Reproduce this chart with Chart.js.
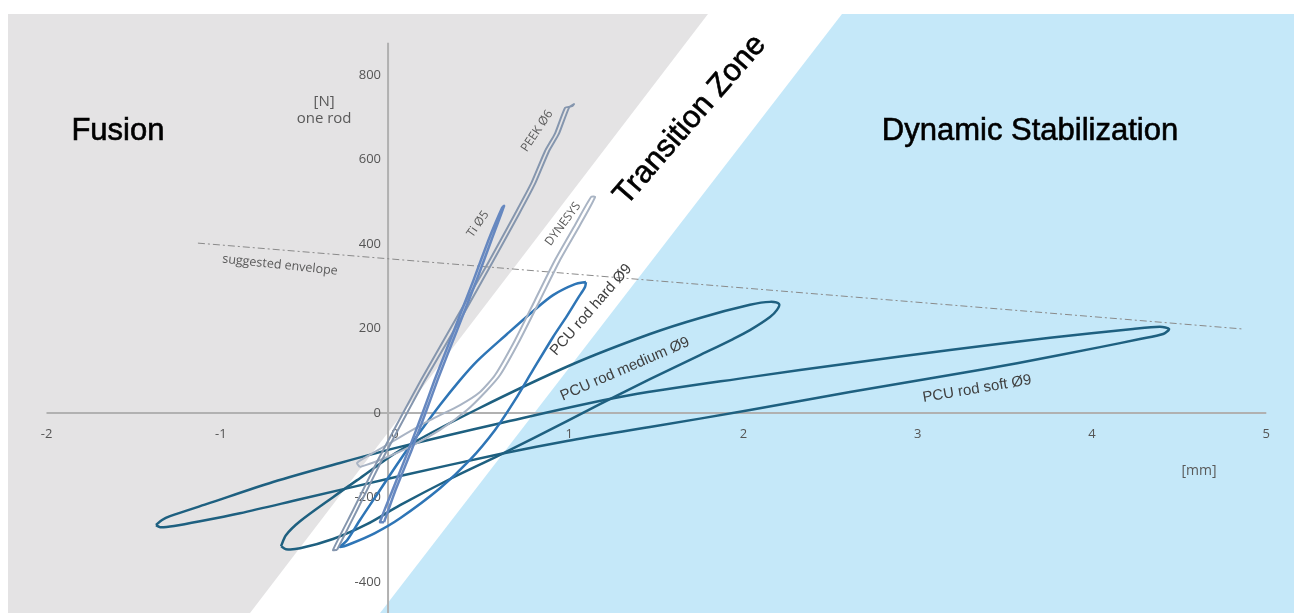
<!DOCTYPE html>
<html>
<head>
<meta charset="utf-8">
<script src="https://cdn.jsdelivr.net/npm/chart.js@4.4.1/dist/chart.umd.min.js"></script>
<style>
  html, body { margin: 0; padding: 0; background: #fff; }
  #wrap { width: 1294px; height: 613px; }
</style>
</head>
<body>
<div id="wrap"><canvas id="chart" width="1294" height="613"></canvas></div>
<script>
// Axis ticks
const xTicks = [-2, -1, 0, 1, 2, 3, 4, 5];
const yTicks = [-400, -200, 0, 200, 400, 600, 800];

// Background zones (displacement mm, force N)
const fusionZoneX = [-3, 1.796, -0.832, -3];
const fusionZoneY = [944, 944, -473, -473];
const dynamicZoneX = [2.565, 6, 6, -0.086];
const dynamicZoneY = [944, 944, -473, -473];

// Suggested envelope
const envX = [-1.131, 4.861];
const envY = [402, 199];

// PCU rod soft Ø9
const softX = [-1.372, -1.337, -1.291, -1.079, -0.700, -0.316, 0.029, 0.603, 1.291, 2.037, 2.611, 3.185, 3.759, 4.235, 4.390, 4.442,
               4.408, 4.275, 4.046, 3.570, 3.185, 2.611, 2.037, 1.463, 0.987, 0.603, 0.029, -0.545, -0.890, -1.119, -1.268, -1.348, -1.372];
const softY = [-265, -253, -244, -215, -163, -118, -80, -24, 38, 85, 118, 149, 178, 199, 204, 199,
               187, 175, 156, 118, 90, 50, 7, -33, -66, -97, -149, -204, -237, -256, -267, -270, -265];

// PCU rod medium Ø9
const mediumX = [-0.654, -0.626, -0.545, -0.356, -0.201, 0.029, 0.471, 1.022, 1.463, 1.750, 2.037, 2.152, 2.204,
                 2.192, 2.152, 2.037, 1.940, 1.750, 1.463, 1.176, 0.987, 0.603, 0.316, 0.029, -0.161, -0.356, -0.545, -0.626, -0.654];
const mediumY = [-315, -289, -256, -199, -154, -88, 9, 116, 187, 225, 256, 263, 258,
                 244, 227, 196, 175, 137, 80, 21, -19, -99, -156, -218, -263, -298, -320, -322, -315];

// PCU rod hard Ø9
const hardX = [1.096, 1.033, 0.907, 0.792, 0.643, 0.471, 0.373, 0.258, 0.143, 0.029, -0.086, -0.201, -0.275, -0.316,
               -0.247, -0.115, 0.029, 0.258, 0.430, 0.574, 0.689, 0.792, 0.907, 0.987, 1.050, 1.090, 1.096];
const hardY = [310, 305, 279, 241, 187, 123, 78, 19, -45, -111, -182, -253, -301, -317,
               -308, -284, -249, -178, -111, -40, 31, 102, 180, 230, 272, 298, 310];

// PEEK Ø6
const peekX = [-0.333, -0.218, -0.075, 0.069, 0.172, 0.390, 0.557, 0.712, 0.803, 0.884, 0.941, 0.998, 1.027,
               1.016, 0.976, 0.918, 0.861, 0.780, 0.688, 0.534, 0.362, 0.149, 0.046, -0.098, -0.241, -0.356, -0.333];
const peekY = [-324, -230, -111, 0, 78, 232, 355, 471, 542, 620, 661, 722, 731,
               726, 722, 661, 620, 542, 471, 355, 232, 78, 0, -111, -230, -324, -324];

// Ti Ø5
const tiX = [-0.063, 0.003, 0.095, 0.175, 0.244, 0.356, 0.468, 0.554, 0.626,
             0.614, 0.537, 0.450, 0.339, 0.227, 0.158, 0.077, -0.014, -0.086, -0.063];
const tiY = [-258, -182, -88, 0, 78, 196, 314, 410, 490,
             485, 410, 314, 196, 78, 0, -88, -182, -258, -258];

// DYNESYS
const dynX = [-0.201, -0.086, 0.086, 0.258, 0.413, 0.528, 0.603, 0.717, 0.832, 0.947, 1.062, 1.148,
              1.125, 1.033, 0.918, 0.803, 0.689, 0.574, 0.488, 0.373, 0.201, 0.029, -0.115, -0.218, -0.201];
const dynY = [-128, -111, -80, -40, 7, 54, 90, 173, 267, 362, 445, 511,
              511, 445, 362, 267, 173, 90, 50, 19, -17, -57, -92, -118, -128];

// Where the vertical axis crosses
const yAxisAtX = -0.04;

// Text annotations, anchored in data units
const notes = [
  { text: 'Fusion', x: -1.590, y: 667, angle: 0, font: '31px "Liberation Sans"', color: '#000', bold: true },
  { text: 'Dynamic Stabilization', x: 3.644, y: 667, angle: 0, font: '31px "Liberation Sans"', color: '#000', bold: true },
  { text: 'Transition Zone', x: 1.693, y: 693, angle: -49, font: '31px "Liberation Sans"', color: '#000', bold: true },
  { text: '[N]', x: -0.407, y: 736, angle: 0, font: '15px "Open Sans"', color: '#595959' },
  { text: 'one rod', x: -0.407, y: 696, angle: 0, font: '15px "Open Sans"', color: '#595959' },
  { text: '[mm]', x: 4.614, y: -137, angle: 0, font: '14px "Open Sans"', color: '#595959' },
  { text: 'PEEK Ø6', x: 0.815, y: 667, angle: -56, font: '12px "Open Sans"', color: '#595959' },
  { text: 'Ti Ø5', x: 0.476, y: 447, angle: -55, font: '12px "Open Sans"', color: '#595959' },
  { text: 'DYNESYS', x: 0.964, y: 447, angle: -53, font: '12px "Open Sans"', color: '#595959' },
  { text: 'PCU rod hard Ø9', x: 1.125, y: 244, angle: -49, font: '15px "Liberation Sans"', color: '#404040' },
  { text: 'PCU rod medium Ø9', x: 1.320, y: 104, angle: -23.5, font: '15px "Liberation Sans"', color: '#404040' },
  { text: 'PCU rod soft Ø9', x: 3.340, y: 57, angle: -9.5, font: '15px "Liberation Sans"', color: '#404040' },
  { text: 'suggested envelope', x: -0.660, y: 350, angle: 6, font: '12.5px "Open Sans"', color: '#595959' }
];

function pts(xs, ys) {
  return xs.map((v, i) => ({ x: v, y: ys[i] }));
}

function fillPoly(ctx, sx, sy, xs, ys, color) {
  ctx.beginPath();
  xs.forEach((v, i) => {
    const px = sx.getPixelForValue(v), py = sy.getPixelForValue(ys[i]);
    if (i === 0) ctx.moveTo(px, py); else ctx.lineTo(px, py);
  });
  ctx.closePath();
  ctx.fillStyle = color;
  ctx.fill();
}

// Zones, axis lines and tick labels behind the curves
const backdrop = {
  id: 'backdrop',
  beforeDatasetsDraw(chart) {
    const { ctx, chartArea: a, scales: { x, y } } = chart;
    ctx.save();
    ctx.beginPath();
    ctx.rect(a.left, a.top, a.right - a.left, a.bottom - a.top);
    ctx.clip();
    fillPoly(ctx, x, y, fusionZoneX, fusionZoneY, '#e4e3e4');
    fillPoly(ctx, x, y, dynamicZoneX, dynamicZoneY, '#c5e8f9');

    // axis lines
    ctx.strokeStyle = '#b1b1b1';
    ctx.lineWidth = 2;
    ctx.beginPath();
    ctx.moveTo(x.getPixelForValue(xTicks[0]), y.getPixelForValue(0));
    ctx.lineTo(x.getPixelForValue(xTicks[xTicks.length - 1]), y.getPixelForValue(0));
    ctx.moveTo(x.getPixelForValue(yAxisAtX), y.getPixelForValue(876));
    ctx.lineTo(x.getPixelForValue(yAxisAtX), a.bottom);
    ctx.stroke();

    // tick labels
    ctx.fillStyle = '#555';
    ctx.font = '13px "Open Sans"';
    ctx.textBaseline = 'middle';
    ctx.textAlign = 'center';
    xTicks.forEach(v => ctx.fillText(String(v), x.getPixelForValue(v), y.getPixelForValue(0) + 21));
    ctx.textAlign = 'right';
    yTicks.forEach(v => ctx.fillText(String(v), x.getPixelForValue(yAxisAtX) - 7, y.getPixelForValue(v)));
    ctx.restore();
  },
  afterDatasetsDraw(chart) {
    const { ctx, scales: { x, y } } = chart;
    ctx.save();
    ctx.textAlign = 'center';
    ctx.textBaseline = 'middle';
    notes.forEach(n => {
      ctx.save();
      ctx.translate(x.getPixelForValue(n.x), y.getPixelForValue(n.y));
      ctx.rotate(n.angle * Math.PI / 180);
      ctx.font = n.font;
      ctx.fillStyle = n.color;
      ctx.fillText(n.text, 0, 0);
      if (n.bold) {
        // the headings look a touch heavier than plain Liberation Sans
        ctx.strokeStyle = n.color;
        ctx.lineWidth = 0.6;
        ctx.strokeText(n.text, 0, 0);
      }
      ctx.restore();
    });
    ctx.restore();
  }
};

function loop(label, xs, ys, color, width, tension) {
  return {
    label: label,
    data: pts(xs, ys),
    showLine: true,
    borderColor: color,
    borderWidth: width,
    pointRadius: 0,
    tension: tension,
    fill: false
  };
}

const ctx = document.getElementById('chart').getContext('2d');
new Chart(ctx, {
  type: 'scatter',
  data: {
    // first dataset is drawn on top
    datasets: [
      loop('Ti Ø5', tiX, tiY, '#6688c0', 2.5, 0.15),
      loop('PEEK Ø6', peekX, peekY, '#8596ae', 2, 0.15),
      loop('DYNESYS', dynX, dynY, '#a9b4c4', 2, 0.2),
      loop('PCU rod hard Ø9', hardX, hardY, '#2e75b6', 2.5, 0.3),
      loop('PCU rod medium Ø9', mediumX, mediumY, '#1e6080', 2.5, 0.3),
      loop('PCU rod soft Ø9', softX, softY, '#1e6080', 2.5, 0.3),
      {
        label: 'suggested envelope',
        data: pts(envX, envY),
        showLine: true,
        borderColor: '#8a8a8a',
        borderWidth: 1,
        borderDash: [7, 3, 2, 3],
        pointRadius: 0
      }
    ]
  },
  options: {
    responsive: false,
    animation: false,
    devicePixelRatio: 1,
    layout: { padding: { left: 8, top: 14, right: 0, bottom: 0 } },
    plugins: { legend: { display: false }, tooltip: { enabled: false } },
    scales: {
      x: { type: 'linear', min: -2.221, max: 5.159, display: false },
      y: { type: 'linear', min: -473, max: 944, display: false }
    }
  },
  plugins: [backdrop]
});
</script>
</body>
</html>
